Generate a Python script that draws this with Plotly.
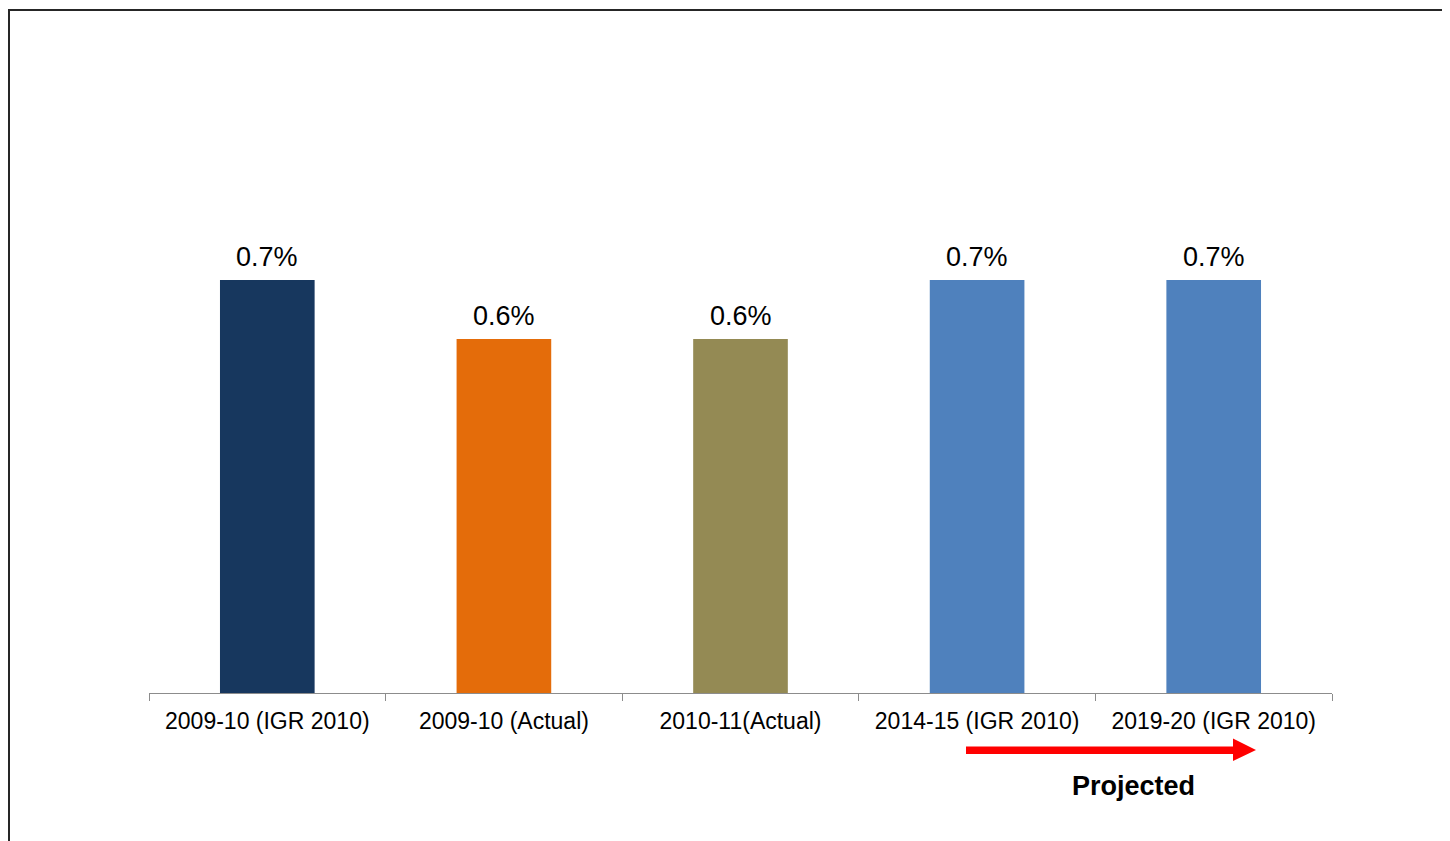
import plotly.graph_objects as go

categories = ["2009-10 (IGR 2010)", "2009-10 (Actual)", "2010-11(Actual)", "2014-15 (IGR 2010)", "2019-20 (IGR 2010)"]
values = [0.7, 0.6, 0.6, 0.7, 0.7]
labels = ["0.7%", "0.6%", "0.6%", "0.7%", "0.7%"]
colors = ["#17375E", "#E46C0A", "#948A54", "#4F81BD", "#4F81BD"]

FONT = "Liberation Sans, Arial, sans-serif"

fig = go.Figure(go.Bar(
    x=categories, y=values,
    marker=dict(color=colors, line=dict(width=0)),
    width=0.4,
))

for c, v, t in zip(categories, values, labels):
    fig.add_annotation(x=c, y=v, text=t, showarrow=False, yanchor="bottom",
                       yshift=6, font=dict(size=27, color="#000000", family=FONT))

# page body offset of 8px is compensated: plot area in screen px 149..1332 x 103..693
OFF = 8
W, H = 1450, 841
L, T = 149 - OFF, 103 - OFF
R = W - (1332 - OFF)
B = H - (693 - OFF)
PL, PR, PT, PB = 149, 1332, 103, 693

def px(x):
    return (x - PL) / (PR - PL)

def py(y):
    return (PB - y) / (PB - PT)

fig.update_layout(
    width=W, height=H,
    margin=dict(l=L, r=R, t=T, b=B),
    paper_bgcolor="white", plot_bgcolor="white",
    showlegend=False,
    font=dict(family=FONT, color="#000000"),
    xaxis=dict(
        showline=True, linecolor="#8C8C8C", linewidth=1,
        ticks="outside", tickson="boundaries", ticklen=7, tickcolor="#8C8C8C",
        ticklabelstandoff=7,
        tickfont=dict(size=23, color="#000000", family=FONT),
        showgrid=False, zeroline=False,
    ),
    yaxis=dict(range=[0, 1.0], visible=False, showgrid=False, zeroline=False),
)

# Outer border (extends beyond the bottom/right of the view)
fig.add_shape(type="rect", xref="paper", yref="paper",
              x0=px(9), x1=px(1500), y0=py(900), y1=py(10),
              line=dict(color="#262626", width=2), fillcolor="rgba(0,0,0,0)", layer="above")

# Projected arrow
path = (f"M {px(966)},{py(746.5)} L {px(1233)},{py(746.5)} L {px(1233)},{py(738.5)} "
        f"L {px(1256)},{py(750)} L {px(1233)},{py(761)} L {px(1233)},{py(754)} "
        f"L {px(966)},{py(754)} Z")
fig.add_shape(type="path", xref="paper", yref="paper", path=path,
              fillcolor="#FF0000", line=dict(width=0))

fig.add_annotation(xref="paper", yref="paper", x=px(1133), y=py(786),
                   text="<b>Projected</b>", showarrow=False,
                   font=dict(size=27, color="#000000", family=FONT),
                   xanchor="center", yanchor="middle")

fig.write_html("out.html")
